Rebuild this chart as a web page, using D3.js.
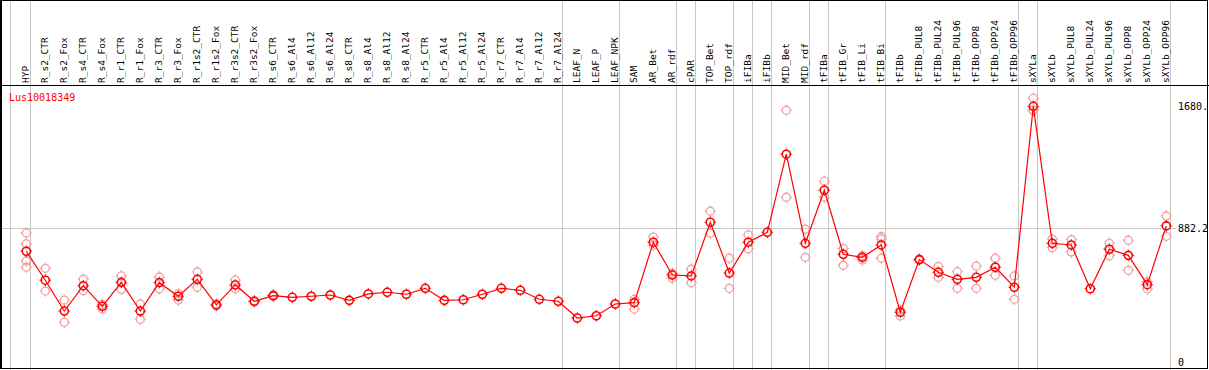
<!DOCTYPE html>
<html>
<head>
<meta charset="utf-8">
<script src="https://cdn.jsdelivr.net/npm/d3@7"></script>
<style>
    body { margin: 0; background: #fff; }
    svg { display: block; font-family: "DejaVu Sans Mono", monospace; }
    .frame { stroke: #000; stroke-width: 1.5; fill: none; shape-rendering: crispEdges; }
    .grid { stroke: #c8c8c8; stroke-width: 1.5; shape-rendering: crispEdges; }
    .col-label { font-size: 9.5px; fill: #000; }
    .tick-label { font-size: 10px; fill: #000; }
</style>
</head>
<body>
<script>
// Chart data
const GENE = "Lus10018349";

const categories = [
    "HYP", "R_s2_CTR", "R_s2_Fox", "R_s4_CTR", "R_s4_Fox", "R_r1_CTR", "R_r1_Fox",
    "R_r3_CTR", "R_r3_Fox", "R_r1s2_CTR", "R_r1s2_Fox", "R_r3s2_CTR", "R_r3s2_Fox",
    "R_s6_CTR", "R_s6_Al4", "R_s6_Al12", "R_s6_Al24", "R_s8_CTR", "R_s8_Al4", "R_s8_Al12",
    "R_s8_Al24", "R_r5_CTR", "R_r5_Al4", "R_r5_Al12", "R_r5_Al24", "R_r7_CTR", "R_r7_Al4",
    "R_r7_Al12", "R_r7_Al24", "LEAF_N", "LEAF_P", "LEAF_NPK", "SAM", "AR_Bet", "AR_rdf",
    "cPAR", "TOP_Bet", "TOP_rdf", "iFIBa", "iFIBb", "MID_Bet", "MID_rdf", "tFIBa",
    "tFIB_Gr", "tFIB_Li", "tFIB_Bi", "tFIBb", "tFIBb_PUL8", "tFIBb_PUL24", "tFIBb_PUL96",
    "tFIBb_OPP8", "tFIBb_OPP24", "tFIBb_OPP96", "sXYLa", "sXYLb", "sXYLb_PUL8",
    "sXYLb_PUL24", "sXYLb_PUL96", "sXYLb_OPP8", "sXYLb_OPP24", "sXYLb_OPP96"
];

// mean expression per sample
const means = [
    730, 540, 338, 504, 369, 526, 338,
    524, 435, 546, 378, 509, 402,
    439, 428, 435, 443, 408, 450, 461,
    448, 487, 408, 412, 448, 487, 474,
    415, 402, 292, 307, 384, 393, 789, 574,
    568, 920, 587, 789, 854, 1366, 782, 1130,
    710, 690, 771, 330, 675, 592, 546,
    559, 625, 494, 1680, 782, 771,
    484, 743, 703, 511, 896
];

// individual replicates (only those visible apart from the mean)
const replicates = [
    [850, 778, 666, 625], [618, 469], [410, 264], [547, 471], [382, 353], [568, 480], [384, 284],
    [561, 484], [452, 410], [594, 494], [372, 384], [541, 484], [398, 406],
    [434, 444], [], [], [], [], [], [],
    [], [], [], [], [], [], [],
    [], [], [], [], [], [415, 351], [823, 769], [585, 553],
    [612, 524], [992, 848], [684, 487], [837, 747], [], [1654, 1084], [874, 690], [1189, 1084],
    [747, 638], [701, 673], [825, 810, 684], [306, 345], [671, 679], [629, 559], [596, 487],
    [633, 487], [684, 572], [568, 415], [1733, 1656, 1651], [810, 753], [806, 725],
    [], [782, 701], [802, 605], [530, 483], [961, 828]
];

// last sample of each tissue group (a separator follows it)
const groupEnds = [
    "HYP", "R_r7_Al24", "LEAF_NPK", "AR_rdf", "cPAR", "TOP_rdf", "iFIBa", "iFIBb",
    "MID_rdf", "tFIBa", "tFIB_Bi", "tFIBb_OPP96", "sXYLa", "sXYLb_OPP96"
];

const yTickValues = [0, 882.2, 1680];
const yTickLabels = ["0", "882.2", "1680."];
const refLine = 882.2;

// Layout
const W = 1209, H = 370;
const HEADER = 85.5;
const X0 = 26.3, X1 = 1166.3;
const Y_ZERO = 362.6, Y_MAX = 106.3;

const svg = d3.select("body").append("svg")
    .attr("width", W)
    .attr("height", H);

const x = d3.scalePoint().domain(categories).range([X0, X1]);
const y = d3.scaleLinear().domain([0, 1680]).range([Y_ZERO, Y_MAX]);

// grid: vertical group separators and reference line
const grid = svg.append("g");
grid.append("line").attr("class", "grid")
    .attr("x1", 10.5).attr("x2", 10.5).attr("y1", 0).attr("y2", H);
grid.selectAll("line.sep")
    .data(groupEnds)
    .enter()
    .append("line")
    .attr("class", "grid sep")
    .attr("x1", d => Math.round(x(d) + 4) + 0.5)
    .attr("x2", d => Math.round(x(d) + 4) + 0.5)
    .attr("y1", 0)
    .attr("y2", H);
grid.append("line").attr("class", "grid")
    .attr("x1", 1).attr("x2", 1176)
    .attr("y1", Math.round(y(refLine)) + 0.5)
    .attr("y2", Math.round(y(refLine)) + 0.5);

// frame
svg.append("rect").attr("class", "frame")
    .attr("x", 1).attr("y", 0.5).attr("width", W - 2.5).attr("height", H - 2);
svg.append("line").attr("class", "frame")
    .attr("x1", 1).attr("x2", W).attr("y1", HEADER).attr("y2", HEADER);

// column labels
svg.append("g").selectAll("text")
    .data(categories)
    .enter()
    .append("text")
    .attr("class", "col-label")
    .attr("transform", d => `translate(${x(d) + 3},83) rotate(-90)`)
    .text(d => d);

// gene name
svg.append("text")
    .attr("x", 9)
    .attr("y", 101)
    .attr("font-size", "10px")
    .attr("fill", "#ff0000")
    .text(GENE);

// right side value labels
svg.append("g").selectAll("text")
    .data(yTickValues)
    .enter()
    .append("text")
    .attr("class", "tick-label")
    .attr("x", 1178)
    .attr("y", d => y(d))
    .attr("dy", "0.35em")
    .text((d, i) => yTickLabels[i]);

// marker: circle with four small outer ticks
function addMarker(container, cx, cy, color, width) {
    const r = 4;
    container.append("circle")
        .attr("cx", cx).attr("cy", cy).attr("r", r)
        .attr("fill", "none")
        .attr("stroke", color)
        .attr("stroke-width", width);
    [[0, -1], [0, 1], [-1, 0], [1, 0]].forEach(([dx, dy]) => {
        container.append("line")
            .attr("x1", cx + dx * r).attr("y1", cy + dy * r)
            .attr("x2", cx + dx * (r + 1.8)).attr("y2", cy + dy * (r + 1.8))
            .attr("stroke", color)
            .attr("stroke-width", 1);
    });
}

// replicates
const repLayer = svg.append("g");
replicates.forEach((reps, i) => {
    reps.forEach(v => addMarker(repLayer, x(categories[i]), y(v), "#f0a0a0", 1.3));
});

// mean line
const line = d3.line()
    .x((d, i) => x(categories[i]))
    .y(d => y(d));

svg.append("path")
    .datum(means)
    .attr("d", line)
    .attr("fill", "none")
    .attr("stroke", "#ff0000")
    .attr("stroke-width", 1.2);

// mean markers
const meanLayer = svg.append("g");
means.forEach((v, i) => addMarker(meanLayer, x(categories[i]), y(v), "#ff0000", 1.6));
</script>
</body>
</html>
